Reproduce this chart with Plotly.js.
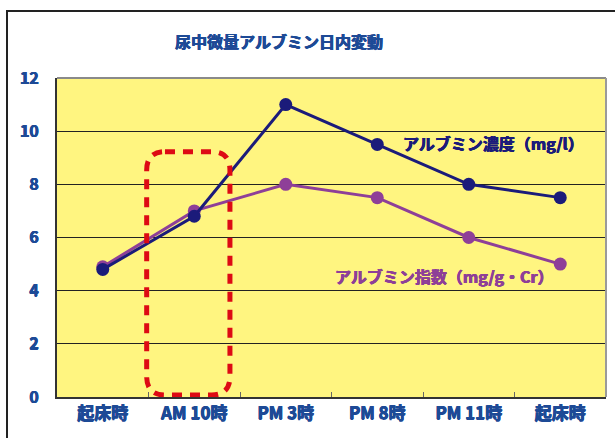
<!DOCTYPE html>
<html><head><meta charset="utf-8">
<script src="https://cdn.plot.ly/plotly-3.0.1.min.js"></script>
<style>html,body{margin:0;padding:0;background:#fff}#chart{width:615px;height:438px}</style>
</head><body><div id="chart"></div>
<script>
const categories = ['起床時', 'AM 10時', 'PM 3時', 'PM 8時', 'PM 11時', '起床時'];
const concentration = [4.8, 6.8, 11, 9.5, 8, 7.5];   // アルブミン濃度 (mg/l)
const albIndex = [4.9, 7.0, 8.0, 7.5, 6.0, 5.0];     // アルブミン指数 (mg/g・Cr)
const yTicks = [0, 2, 4, 6, 8, 10, 12];

const pos = categories.map((c, i) => i);
const FONT = '"Noto Sans CJK JP", "Noto Sans", sans-serif';
const NAVY = '#1b1b7a';
const PURPLE = '#8e3f98';
const TXT = '#1d4a96';
const fb = c => `0.5px 0 0 ${c}, -0.4px 0 0 ${c}, 0 0.3px 0 ${c}`;

const traces = [
  {x: pos, y: albIndex, type: 'scatter', mode: 'lines+markers',
   line: {color: PURPLE, width: 3}, marker: {color: PURPLE, size: 13}, hoverinfo: 'skip'},
  {x: pos, y: concentration, type: 'scatter', mode: 'lines+markers',
   line: {color: NAVY, width: 3}, marker: {color: NAVY, size: 13}, hoverinfo: 'skip'}
];

// rounded dashed highlight around AM 10時
const bx0 = 0.48, bx1 = 1.39, by0 = 0.075, by1 = 9.23, rx = 0.2, ry = 0.7;
const boxPath = `M ${bx0+rx},${by1} L ${bx1-rx},${by1} Q ${bx1},${by1} ${bx1},${by1-ry} L ${bx1},${by0+ry} Q ${bx1},${by0} ${bx1-rx},${by0} L ${bx0+rx},${by0} Q ${bx0},${by0} ${bx0},${by0+ry} L ${bx0},${by1-ry} Q ${bx0},${by1} ${bx0+rx},${by1} Z`;

const layout = {
  width: 615, height: 438,
  margin: {l: 57, r: 9, t: 78, b: 41},
  paper_bgcolor: '#ffffff',
  plot_bgcolor: '#fff580',
  showlegend: false,
  title: {text: '尿中微量アルブミン日内変動', x: 279/615, xanchor: 'center', xref: 'container',
          y: 1 - 42/438, yanchor: 'middle', yref: 'container',
          font: {family: FONT, size: 16, color: TXT, weight: 'bold', shadow: fb(TXT)}},
  xaxis: {
    range: [-0.5, 5.5], tickmode: 'array', tickvals: pos, ticktext: categories,
    showgrid: false, zeroline: false, showline: true, linecolor: '#333333', linewidth: 2,
    ticks: '', tickfont: {family: FONT, size: 17, color: TXT, weight: 'bold', shadow: fb(TXT)},
    minor: {tickmode: 'array', tickvals: [0.5, 1.5, 2.5, 3.5, 4.5], ticks: 'inside', ticklen: 5, tickcolor: '#666666', tickwidth: 1, showgrid: false},
    fixedrange: true
  },
  yaxis: {
    range: [0, 12], tickmode: 'array', tickvals: yTicks,
    showgrid: true, gridcolor: '#222222', gridwidth: 1, zeroline: false,
    showline: true, linecolor: '#333333', linewidth: 2,
    ticks: 'outside', ticklen: 13, tickcolor: 'rgba(0,0,0,0)',
    tickfont: {family: FONT, size: 16, color: TXT, weight: 'bold', shadow: fb(TXT)},
    fixedrange: true
  },
  shapes: [
    {type: 'line', xref: 'paper', yref: 'paper', x0: 0, x1: 1, y0: 1, y1: 1, line: {color: '#8a8a8a', width: 2}},
    {type: 'line', xref: 'paper', yref: 'paper', x0: 1, x1: 1, y0: 0, y1: 1, line: {color: '#9a9a9a', width: 2}},
    {type: 'rect', xref: 'paper', yref: 'paper', x0: (7-57)/549, x1: 1.2, y0: -0.3, y1: (397-11)/319,
     line: {color: '#222222', width: 2}, layer: 'below'},
    {type: 'path', xref: 'x', yref: 'y', path: boxPath, line: {color: '#dd0a14', width: 5, dash: '10px,8px'}}
  ],
  annotations: [
    {x: 4.27, y: 9.55, xref: 'x', yref: 'y', text: 'アルブミン濃度（mg/l）', showarrow: false,
     font: {family: FONT, size: 16, color: NAVY, weight: 'bold', shadow: fb(NAVY)}},
    {x: 3.73, y: 4.55, xref: 'x', yref: 'y', text: 'アルブミン指数（mg/g・Cr）', showarrow: false,
     font: {family: FONT, size: 16, color: PURPLE, weight: 'bold', shadow: fb(PURPLE)}}
  ]
};

Plotly.newPlot('chart', traces, layout, {displayModeBar: false, staticPlot: true});
</script></body></html>
